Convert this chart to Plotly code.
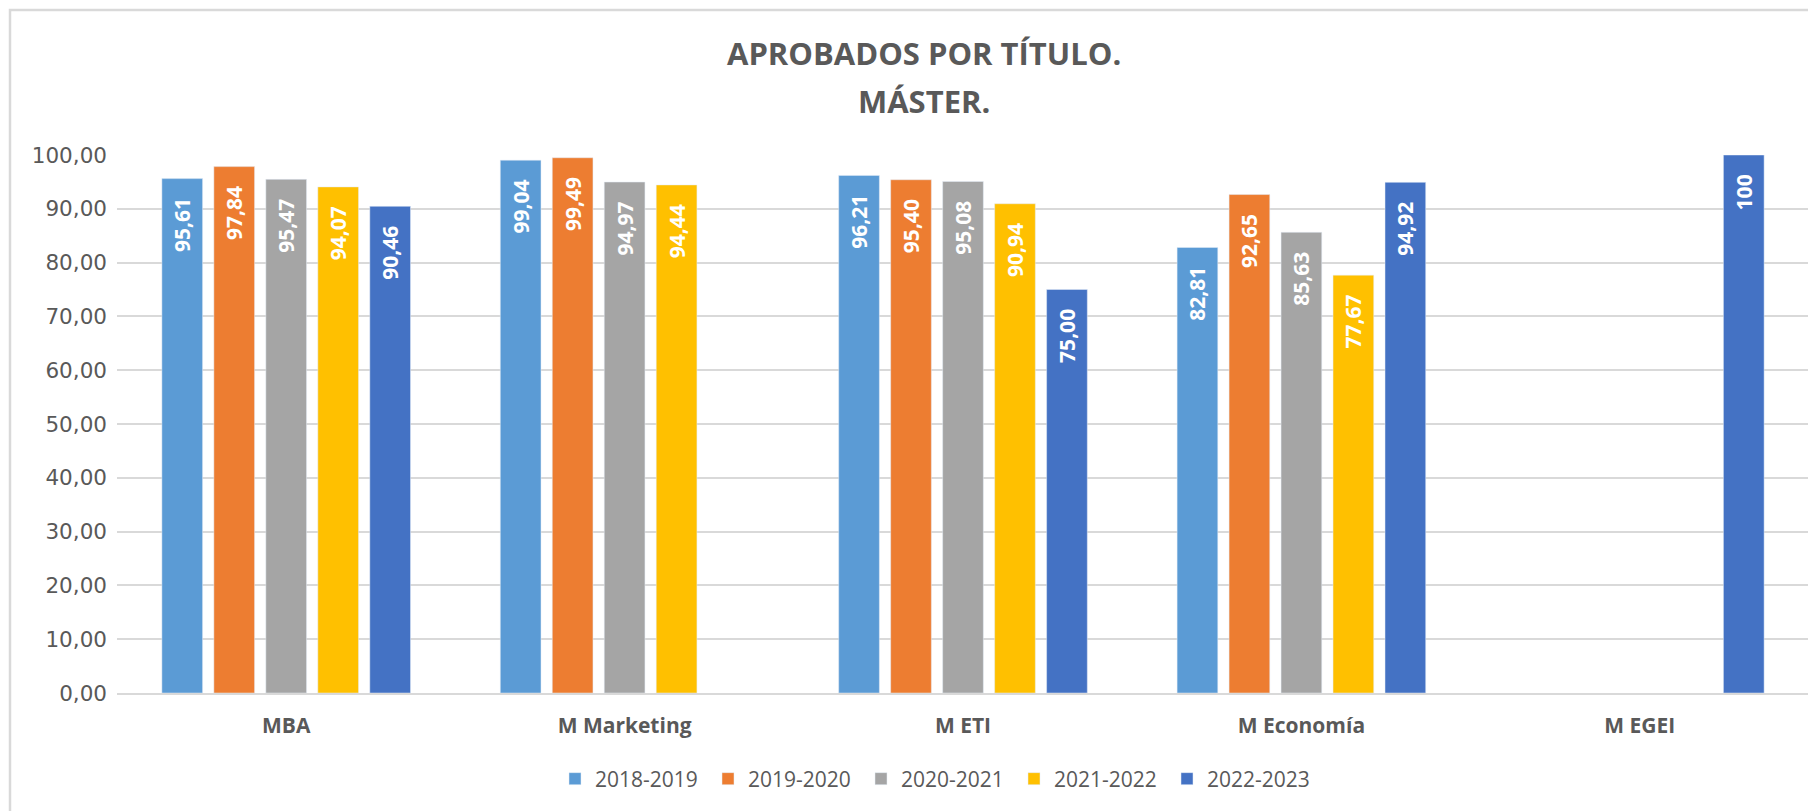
import plotly.graph_objects as go

categories = ["MBA", "M Marketing", "M ETI", "M Economía", "M EGEI"]
series_names = ["2018-2019", "2019-2020", "2020-2021", "2021-2022", "2022-2023"]
s2018 = [95.61, 99.04, 96.21, 82.81, None]
s2019 = [97.84, 99.49, 95.40, 92.65, None]
s2020 = [95.47, 94.97, 95.08, 85.63, None]
s2021 = [94.07, 94.44, 90.94, 77.67, None]
s2022 = [90.46, None, 75.00, 94.92, 100]
colors = ["#5B9BD5", "#ED7D31", "#A5A5A5", "#FFC000", "#4472C4"]
y_ticks = [0, 10, 20, 30, 40, 50, 60, 70, 80, 90, 100]

OFF = 8  # page body margin
W, H = 1816, 811
PL, PR, PT, PB = 117, 1809, 155, 693  # plot area in screen pixels
ML, MT = PL - OFF, PT - OFF
PW, PH = PR - PL, PB - PT
MR, MB = W - ML - PW, H - MT - PH


def px_x(p):
    return (p - PL) / PW


def px_y(p):
    return (PB - p) / PH


def fmt(v):
    if v is None:
        return ""
    if isinstance(v, int):
        return str(v)
    return f"{v:.2f}".replace(".", ",")


fig = go.Figure()
for name, vals, col in zip(series_names, [s2018, s2019, s2020, s2021, s2022], colors):
    fig.add_trace(go.Bar(
        name=name, x=categories, y=vals, marker_color=col,
        text=[fmt(v) for v in vals],
        texttemplate="%{text}\u00a0\u00a0\u00a0",
        textposition="inside", insidetextanchor="end", textangle=-90,
        insidetextfont=dict(family="Open Sans", size=21, color="white", weight="bold"),
        hoverinfo="skip",
    ))

tick_text = [f"{t:.2f}".replace(".", ",") for t in y_ticks]

fig.update_layout(
    width=W, height=H, autosize=False,
    margin=dict(l=ML, r=MR, t=MT, b=MB),
    paper_bgcolor="white", plot_bgcolor="white",
    barmode="group", bargap=0.232, bargroupgap=0.217,
    showlegend=True,
    legend=dict(orientation="h", x=px_x(555), xanchor="left", y=px_y(779), yanchor="middle",
                font=dict(family="Open Sans", size=21, color="#595959"),
                entrywidth=108, entrywidthmode="pixels", traceorder="normal"),
    xaxis=dict(showgrid=False, showline=True, linecolor="#d9d9d9", linewidth=1.5,
               ticks="", ticklabelstandoff=13,
               tickfont=dict(family="Open Sans", size=21, color="#595959", weight="bold")),
    yaxis=dict(range=[0, 100], tickvals=y_ticks, ticktext=tick_text, showgrid=True,
               gridcolor="#d9d9d9", gridwidth=1.5, zeroline=False, ticks="",
               ticklabelstandoff=9,
               tickfont=dict(family="DejaVu Sans", size=21.5, color="#595959")),
    annotations=[
        dict(text="APROBADOS POR TÍTULO.", x=px_x(924), y=px_y(53), xref="paper", yref="paper",
             showarrow=False, xanchor="center", yanchor="middle",
             font=dict(family="Open Sans", size=31, color="#595959", weight="bold")),
        dict(text="MÁSTER.", x=px_x(924), y=px_y(101), xref="paper", yref="paper",
             showarrow=False, xanchor="center", yanchor="middle",
             font=dict(family="Open Sans", size=31, color="#595959", weight="bold")),
    ],
    shapes=[dict(type="rect", xref="paper", yref="paper",
                 x0=px_x(10), x1=px_x(1813), y0=px_y(820), y1=px_y(10),
                 line=dict(color="#d9d9d9", width=2.5), layer="below")],
)

fig.write_html("out.html")
